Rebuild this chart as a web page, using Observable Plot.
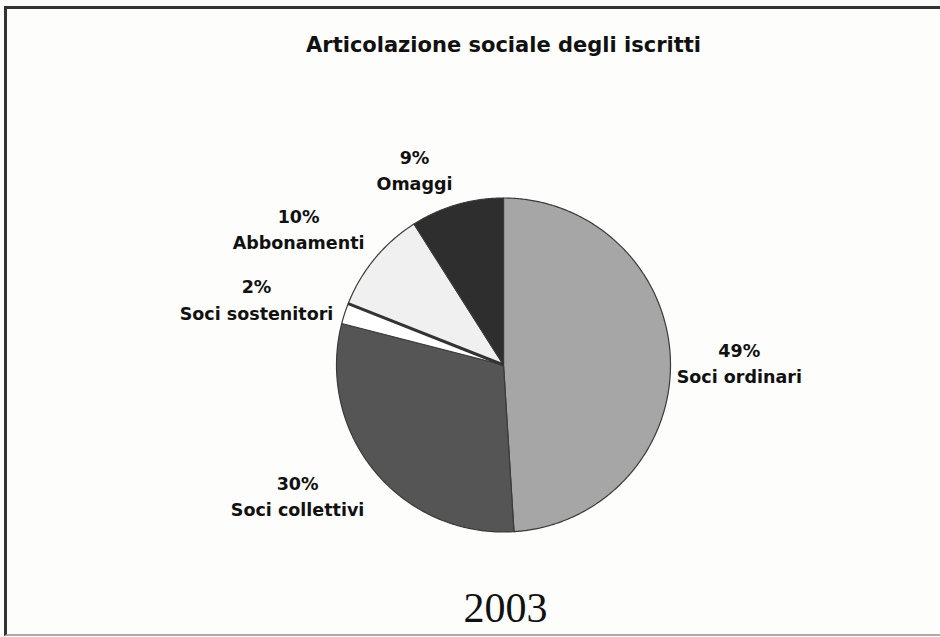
<!DOCTYPE html>
<html>
<head>
<meta charset="utf-8">
<script src="https://cdn.jsdelivr.net/npm/d3@7"></script>
<script src="https://cdn.jsdelivr.net/npm/@observablehq/plot@0.6"></script>
<style>
  html, body { margin: 0; padding: 0; background: #fdfdfb; }
  #wrap { position: relative; width: 940px; height: 637px; overflow: hidden; }
  #border { position: absolute; left: 4px; top: 6px; right: -20px; bottom: 1px;
            border-left: 3px solid #333; border-top: 3px solid #333; border-bottom: 2px solid #aaa; pointer-events: none; }
</style>
</head>
<body>
<div id="wrap"><div id="border"></div></div>
<script>
// ---- data ----
const title = "Articolazione sociale degli iscritti";
const yearLabel = "2003";
const categories = ["Soci ordinari", "Soci collettivi", "Soci sostenitori", "Abbonamenti", "Omaggi"];
const values = [49, 30, 2, 10, 9];

// ---- styles / layout (not data) ----
const fills = ["#a6a6a6", "#555555", "#ffffff", "#f0f0f0", "#2e2e2e"];
// label anchors in pie-radius units (x right, y up)
const labelAnchors = [[1.412, 0.02], [-1.233, -0.775], [-1.479, 0.40], [-1.227, 0.823], [-0.533, 1.177]];

const W = 940, H = 637, CX = 503, CY = 364.5, R = 167;

const arcs = d3.pie().sort(null).value(d => d)(values);
const slicePts = [];
arcs.forEach((a, i) => {
  slicePts.push({x: 0, y: 0, cat: categories[i], col: fills[i]});
  const n = Math.max(2, Math.ceil((a.endAngle - a.startAngle) / (Math.PI / 360)));
  for (let k = 0; k <= n; k++) {
    const t = a.startAngle + (a.endAngle - a.startAngle) * k / n;
    slicePts.push({x: Math.sin(t), y: Math.cos(t), cat: categories[i], col: fills[i]});
  }
  slicePts.push({x: 0, y: 0, cat: categories[i], col: fills[i]});
});
// dark divider between Soci sostenitori and Abbonamenti
const divAngle = arcs[2].endAngle;
const divider = [{x1: 0, y1: 0, x2: Math.sin(divAngle), y2: Math.cos(divAngle)}];

const labels = categories.map((c, i) => ({
  x: labelAnchors[i][0], y: labelAnchors[i][1], text: `${values[i]}%\n${c}`
}));

const chart = Plot.plot({
  width: W, height: H, margin: 0,
  style: {background: "transparent"},
  x: {domain: [-CX / R, (W - CX) / R], axis: null},
  y: {domain: [(CY - H) / R, CY / R], axis: null},
  color: {type: "identity"},
  marks: [
    Plot.line(slicePts, {x: "x", y: "y", z: "cat", fill: "col", stroke: "#3a3a3a", strokeWidth: 1.2, strokeLinejoin: "round"}),
    Plot.link(divider, {x1: "x1", y1: "y1", x2: "x2", y2: "y2", stroke: "#333", strokeWidth: 3}),
    Plot.text(labels, {x: "x", y: "y", text: "text", fontFamily: "DejaVu Sans", fontWeight: "bold", fontSize: 17.5, lineHeight: 1.5, fill: "#111"}),
    Plot.text([title], {frameAnchor: "top", dx: 33, dy: 37, fontFamily: "DejaVu Sans", fontWeight: "bold", fontSize: 21, fill: "#111"}),
    Plot.text([yearLabel], {frameAnchor: "bottom", dx: 35, dy: -16, fontFamily: "Liberation Serif", fontSize: 42, fill: "#111"})
  ]
});
document.getElementById("wrap").prepend(chart);
</script>
</body>
</html>
